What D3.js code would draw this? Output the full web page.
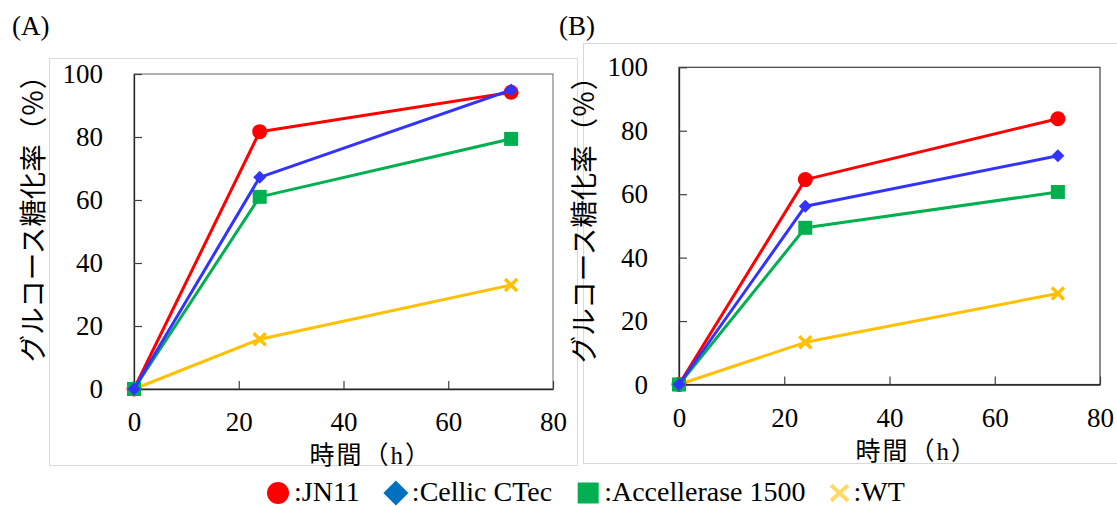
<!DOCTYPE html>
<html>
<head>
<meta charset="utf-8">
<script src="https://cdn.jsdelivr.net/npm/d3@7"></script>
<style>
  body { margin: 0; background: #fff; }
  svg { display: block; }
</style>
</head>
<body>
<svg id="chart" width="1117" height="506"></svg>
<script>
// time points (h)
const hours = [0, 24, 72];

// panel (A) glucose saccharification rate (%)
const jn11A = [0, 81.7, 94.2];
const cellicA = [0, 67.2, 94.9];
const accelA = [0, 61.0, 79.4];
const wtA = [0, 15.8, 33.0];

// panel (B)
const jn11B = [0, 64.6, 83.8];
const cellicB = [0, 56.2, 72.1];
const accelB = [0, 49.4, 60.7];
const wtB = [0, 13.3, 28.7];

const seriesNames = ['JN11', 'Cellic CTec', 'Accellerase 1500', 'WT'];
const xTicks = [0, 20, 40, 60, 80];
const yTicks = [0, 20, 40, 60, 80, 100];
// titles split into CJK / latin pieces so each gets its own font
const xTitle = [['時間（', 'cjk'], ['h', 'latin'], ['）', 'cjk']];
const yTitle = [['グルコース糖化率（％）', 'cjk']];
const panelLabels = ['(A)', '(B)'];

const SERIF = '"Liberation Serif"';
const CJK = '"Noto Sans CJK JP"';

// excel-like diamond (square turned 45deg)
const symbolRhomb = {
    draw(ctx, size) {
        const r = Math.sqrt(size / 2);
        ctx.moveTo(0, -r); ctx.lineTo(r, 0); ctx.lineTo(0, r); ctx.lineTo(-r, 0); ctx.closePath();
    }
};

const styles = {
    'JN11':             {color: '#ff0000', type: d3.symbolCircle, size: Math.PI * 7.5 * 7.5, legendColor: '#ff0000', legendSize: Math.PI * 11 * 11},
    'Cellic CTec':      {color: '#3333ff', type: symbolRhomb, size: 2 * 6.5 * 6.5, legendColor: '#0070c0', legendSize: 2 * 12.5 * 12.5},
    'Accellerase 1500': {color: '#00b050', type: d3.symbolSquare, size: 14 * 14, legendColor: '#00b050', legendSize: 21 * 21},
    'WT':               {color: '#ffc000', type: null, size: 6, legendColor: '#ffd966', legendSize: 8.5}
};

const svg = d3.select('#chart');
svg.append('rect').attr('width', 1117).attr('height', 506).attr('fill', '#fff');

function mixedText(sel, parts) {
    parts.forEach(([s, kind]) => {
        sel.append('tspan')
            .style('font-family', kind === 'cjk' ? CJK : SERIF)
            .text(s);
    });
    return sel;
}

function drawPanel(cfg, seriesData) {
    const g = svg.append('g');

    // outer chart-area frame
    g.append('rect')
        .attr('x', cfg.frame[0] + 0.5).attr('y', cfg.frame[1] + 0.5)
        .attr('width', cfg.frame[2]).attr('height', cfg.frame[3])
        .attr('fill', '#fff').attr('stroke', '#d9d9d9');

    const x = d3.scaleLinear().domain([0, 80]).range([cfg.plot.left, cfg.plot.right]);
    const y = d3.scaleLinear().domain([0, 100]).range([cfg.plot.bottom, cfg.plot.top]);

    // plot area border
    g.append('rect')
        .attr('x', cfg.plot.left).attr('y', cfg.plot.top)
        .attr('width', cfg.plot.right - cfg.plot.left)
        .attr('height', cfg.plot.bottom - cfg.plot.top)
        .attr('fill', 'none').attr('stroke', cfg.border).attr('stroke-width', 1.2);

    const yAxis = d3.axisLeft(y).tickValues(yTicks).tickSizeInner(-8).tickSizeOuter(0).tickPadding(31);
    const xAxis = d3.axisBottom(x).tickValues(xTicks).tickSizeInner(-8).tickSizeOuter(0).tickPadding(23);

    const yG = g.append('g').attr('transform', `translate(${cfg.plot.left},0)`).call(yAxis);
    const xG = g.append('g').attr('transform', `translate(0,${cfg.plot.bottom})`).call(xAxis);
    [yG, xG].forEach(a => {
        a.select('.domain').attr('stroke', '#262626').attr('stroke-width', 1.3);
        a.selectAll('.tick line').attr('stroke', '#404040').attr('stroke-width', 1.2);
        a.selectAll('.tick text')
            .style('font-family', SERIF)
            .style('font-size', '27px')
            .attr('fill', '#000');
    });

    // series: lines then markers, in draw order
    const order = ['WT', 'JN11', 'Accellerase 1500', 'Cellic CTec'];
    const line = d3.line().x((d, i) => x(hours[i])).y(d => y(d));
    order.forEach(name => {
        const vals = seriesData[name];
        const st = styles[name];
        g.append('path')
            .attr('d', line(vals))
            .attr('fill', 'none').attr('stroke', st.color)
            .attr('stroke-width', 3).attr('stroke-linejoin', 'round');
        vals.forEach((v, i) => {
            const cx = x(hours[i]), cy = y(v);
            if (st.type) {
                g.append('path')
                    .attr('transform', `translate(${cx},${cy})`)
                    .attr('d', d3.symbol().type(st.type).size(st.size)())
                    .attr('fill', st.color);
            } else {
                const h = st.size;
                g.append('path')
                    .attr('transform', `translate(${cx},${cy})`)
                    .attr('d', `M${-h},${-h}L${h},${h}M${-h},${h}L${h},${-h}`)
                    .attr('stroke', st.color).attr('stroke-width', 3.5).attr('fill', 'none');
            }
        });
    });

    // titles
    mixedText(g.append('text')
        .attr('x', (cfg.plot.left + cfg.plot.right) / 2 - 34)
        .attr('y', cfg.plot.bottom + 75)
        .style('font-size', '25px')
        .style('letter-spacing', '2px'), xTitle);

    mixedText(g.append('text')
        .attr('transform', `translate(${cfg.yTitle[0]},${cfg.yTitle[1]}) rotate(-90)`)
        .attr('text-anchor', 'middle')
        .attr('dy', '0.35em')
        .style('font-size', '27.5px'), yTitle);

    g.append('text')
        .attr('x', cfg.label[0]).attr('y', cfg.label[1])
        .style('font-family', SERIF)
        .style('font-size', '27px')
        .text(cfg.labelText);
}

drawPanel({
    frame: [49, 58, 528, 407],
    plot: {left: 134, top: 74, right: 553, bottom: 389},
    border: '#808080',
    yTitle: [33, 212],
    label: [12, 35],
    labelText: panelLabels[0]
}, {'JN11': jn11A, 'Cellic CTec': cellicA, 'Accellerase 1500': accelA, 'WT': wtA});

drawPanel({
    frame: [583, 43, 560, 420],
    plot: {left: 679, top: 67.3, right: 1100, bottom: 384.5},
    border: '#404040',
    yTitle: [584, 213],
    label: [559, 35],
    labelText: panelLabels[1]
}, {'JN11': jn11B, 'Cellic CTec': cellicB, 'Accellerase 1500': accelB, 'WT': wtB});

// legend along the bottom, items laid out one after another
const legend = svg.append('g').attr('transform', 'translate(267,493)');
let lx = 0;
seriesNames.forEach(name => {
    const st = styles[name];
    const half = name === 'WT' ? 9 : 11;
    if (st.type) {
        legend.append('path')
            .attr('transform', `translate(${lx + half},0)`)
            .attr('d', d3.symbol().type(st.type).size(st.legendSize)())
            .attr('fill', st.legendColor);
    } else {
        const h = st.legendSize;
        legend.append('path')
            .attr('transform', `translate(${lx + half},0)`)
            .attr('d', `M${-h},${-h * 0.9}L${h},${h * 0.9}M${-h},${h * 0.9}L${h},${-h * 0.9}`)
            .attr('stroke', st.legendColor).attr('stroke-width', 4).attr('fill', 'none');
    }
    lx += half * 2 + 5;
    const t = legend.append('text')
        .attr('x', lx).attr('y', 8)
        .style('font-family', SERIF)
        .style('font-size', '28px')
        .text(':' + name);
    lx += t.node().getComputedTextLength() + 25;
});
</script>
</body>
</html>
